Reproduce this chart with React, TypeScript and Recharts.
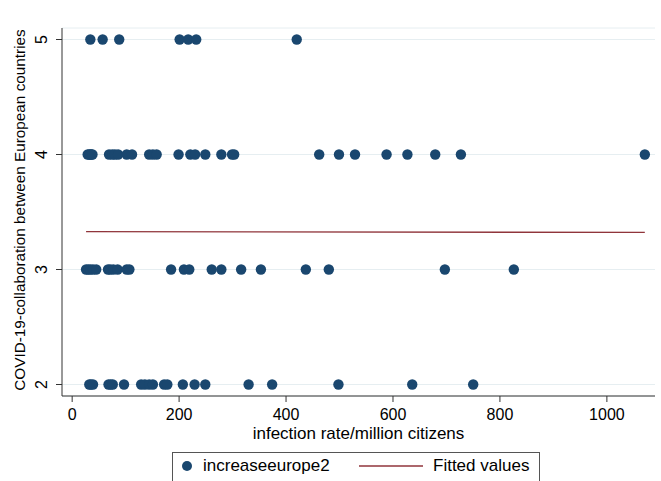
import { CartesianGrid, Label, Scatter, ScatterChart, XAxis, YAxis } from "recharts";

// x values (infection rate / million) for each collaboration level
const level5 = [34, 57, 88, 201, 217, 232, 420];
const level4 = [29, 32, 34, 36, 38, 69, 75, 80, 86, 102, 112, 144, 151, 158, 199, 221, 230, 249, 279, 299, 303, 462, 499, 529, 588, 627, 679, 727, 1071];
const level3 = [26, 30, 34, 39, 45, 67, 71, 77, 85, 102, 107, 185, 209, 219, 261, 279, 316, 353, 437, 480, 697, 826];
const level2 = [32, 35, 39, 68, 72, 76, 97, 129, 136, 144, 151, 172, 178, 207, 229, 249, 330, 374, 498, 636, 750];

const fitX = [26, 1071];
const fitY = [3.33, 3.322];

const xTicks = [0, 200, 400, 600, 800, 1000];
const yTicks = [2, 3, 4, 5];

const NAVY = "#1a476f";
const MAROON = "#90353b";
const FONT = "'Liberation Sans', Arial, sans-serif";
const FS = 16;

const points = [
  ...level5.map((x) => ({ x, y: 5 })),
  ...level4.map((x) => ({ x, y: 4 })),
  ...level3.map((x) => ({ x, y: 3 })),
  ...level2.map((x) => ({ x, y: 2 })),
];
const fitted = fitX.map((x, i) => ({ x, y: fitY[i] }));

function XTick({ x, payload }: any) {
  return (
    <text x={x} y={420} textAnchor="middle" fontSize={FS} fontFamily={FONT} fill="#000">
      {payload.value}
    </text>
  );
}

function YTick({ y, payload }: any) {
  return (
    <text x={47} y={y} textAnchor="middle" fontSize={FS} fontFamily={FONT} fill="#000" transform={`rotate(-90, 47, ${y})`}>
      {payload.value}
    </text>
  );
}

function YTitle({ viewBox }: any) {
  const cy = viewBox.y + viewBox.height / 2 - 2;
  return (
    <text x={25} y={cy} textAnchor="middle" fontSize={15.3} fontFamily={FONT} fill="#000" transform={`rotate(-90, 25, ${cy})`}>
      COVID-19-collaboration between European countries
    </text>
  );
}

function XTitle({ viewBox }: any) {
  return (
    <text x={viewBox.x + viewBox.width / 2} y={439} textAnchor="middle" fontSize={17} fontFamily={FONT} fill="#000">
      infection rate/million citizens
    </text>
  );
}

const Dot = (p: any) => <circle cx={p.cx} cy={p.cy} r={5.2} fill={NAVY} />;

function LegendBox() {
  return (
    <div
      style={{
        position: "absolute",
        left: 172,
        top: 452,
        width: 368,
        height: 40,
        border: "1px solid #555",
        boxSizing: "border-box",
        fontFamily: FONT,
        fontSize: 17,
        color: "#000",
      }}
    >
      <svg width={12} height={12} style={{ position: "absolute", left: 8, top: 7 }}>
        <circle cx={6} cy={6} r={5} fill={NAVY} />
      </svg>
      <span style={{ position: "absolute", left: 30, top: 3, whiteSpace: "nowrap" }}>increaseeurope2</span>
      <svg width={64} height={4} style={{ position: "absolute", left: 186, top: 11 }}>
        <line x1={0} y1={2} x2={64} y2={2} stroke={MAROON} strokeWidth={1.3} />
      </svg>
      <span style={{ position: "absolute", left: 260, top: 3, whiteSpace: "nowrap" }}>Fitted values</span>
    </div>
  );
}

export default function App() {
  return (
    <div style={{ position: "absolute", left: 0, top: 0, width: 661, height: 481, background: "#fff", overflow: "hidden" }}>
      <ScatterChart width={661} height={481} margin={{ top: 28, right: 6, left: 0, bottom: 0 }}>
        <CartesianGrid vertical={false} stroke="#e6eef1" />
        <XAxis
          type="number"
          dataKey="x"
          domain={[-19, 1090]}
          ticks={xTicks}
          allowDataOverflow
          height={85}
          tickSize={6}
          stroke="#333"
          tick={<XTick />}
        >
          <Label content={<XTitle />} />
        </XAxis>
        <YAxis
          type="number"
          dataKey="y"
          domain={[1.9, 5.1]}
          ticks={yTicks}
          allowDataOverflow
          width={62}
          tickSize={6}
          stroke="#333"
          tick={<YTick />}
        >
          <Label content={<YTitle />} />
        </YAxis>
        <Scatter data={points} shape={Dot} isAnimationActive={false} />
        <Scatter
          data={fitted}
          line={{ stroke: MAROON, strokeWidth: 1.3 }}
          shape={() => <g />}
          isAnimationActive={false}
        />
      </ScatterChart>
      <LegendBox />
    </div>
  );
}
